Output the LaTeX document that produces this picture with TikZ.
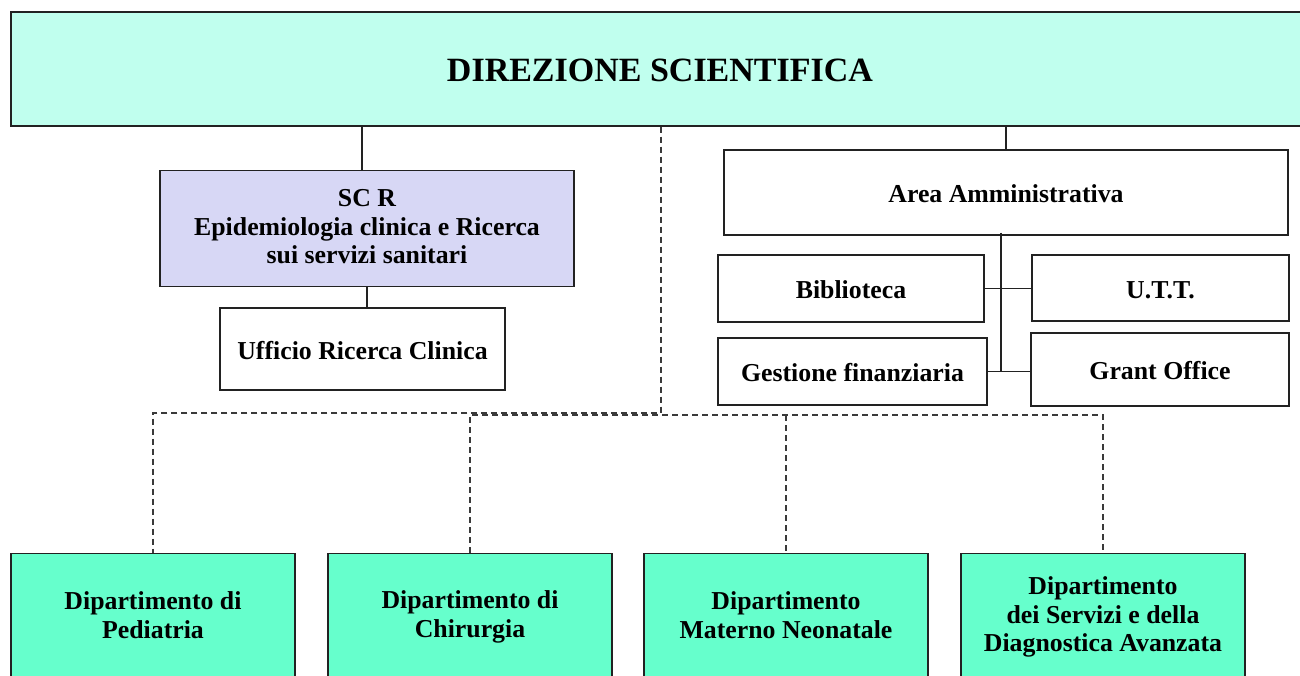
\documentclass[tikz,border=0pt]{standalone}
\usepackage{fontspec}
\setmainfont{Liberation Serif}
\definecolor{topfill}{HTML}{C0FFEE}
\definecolor{deptfill}{HTML}{66FFCC}
\definecolor{scrfill}{HTML}{D7D7F5}
\definecolor{edge}{HTML}{222222}
\definecolor{dashcol}{HTML}{3A3A3A}
\newcommand{\topstrut}{\rule{0pt}{24pt}}
\newcommand{\botstrut}{\rule[-4pt]{0pt}{4pt}}
\tikzset{
  box/.style={draw=edge, line width=1.3pt, rectangle, inner sep=0pt, align=center,
    font=\bfseries\fontsize{25.8}{28.5}\selectfont,
    execute at begin node=\topstrut, execute at end node=\botstrut},
  conn/.style={draw=edge, line width=1.3pt},
  dashline/.style={draw=dashcol, line width=1.3pt, dash pattern=on 6pt off 4pt},
}
\begin{document}
\begin{tikzpicture}[x=1pt, y=-1pt]
\clip (0,0) rectangle (1300,675);
% top box
\node[box, fill=topfill, minimum width=1300pt, minimum height=114pt] (top) at (661,69) {};
\node[font=\bfseries\fontsize{34}{38}\selectfont] (toptext) at (660,70) {DIREZIONE SCIENTIFICA};
% left branch
\node[box, fill=scrfill, minimum width=414pt, minimum height=116pt] (scr) at (367,228.5)
  {SC R\\Epidemiologia clinica e Ricerca\\sui servizi sanitari};
\node[box, fill=white, minimum width=285pt, minimum height=82pt] (uff) at (362.5,349)
  {Ufficio Ricerca Clinica};
% right branch
\node[box, fill=white, minimum width=564pt, minimum height=85pt] (area) at (1006,192.5)
  {Area Amministrativa};
\node[box, fill=white, minimum width=266pt, minimum height=67pt] (bib) at (851,288.5) {Biblioteca};
\node[box, fill=white, minimum width=257pt, minimum height=66pt] (utt) at (1160.5,288) {U.T.T.};
\node[box, fill=white, minimum width=269pt, minimum height=67pt] (gest) at (852.5,371.5) {Gestione finanziaria};
\node[box, fill=white, minimum width=258pt, minimum height=73pt] (grant) at (1160,369.5) {Grant Office};
% departments
\node[box, fill=deptfill, minimum width=284pt, minimum height=127pt] (d1) at (153,617) {Dipartimento di\\Pediatria};
\node[box, fill=deptfill, minimum width=284pt, minimum height=127pt] (d2) at (470,617) {Dipartimento di\\Chirurgia};
\node[box, fill=deptfill, minimum width=284pt, minimum height=127pt] (d3) at (786,617) {Dipartimento\\Materno Neonatale};
\node[box, fill=deptfill, minimum width=284pt, minimum height=127pt] (d4) at (1103,617) {Dipartimento\\dei Servizi e della\\Diagnostica Avanzata};
% coordinates
\coordinate (cl) at (362,0);
\coordinate (cr) at (1006,0);
\coordinate (v) at (1001,0);
\coordinate (j) at (661,413);
\coordinate (h) at (0,415);
% solid connectors
\draw[conn] (top.south -| cl) -- (scr.north -| cl);
\draw[conn] (scr.south) -- (scr.south |- uff.north);
\draw[conn] (top.south -| cr) -- (area.north -| cr);
\draw[conn] ([yshift=3pt]area.south -| v) -- (v |- gest.east);
\draw[conn] (bib.east) -- (bib.east -| utt.west);
\draw[conn] (gest.east) -- (gest.east -| grant.west);
% dashed connectors
\draw[dashline] (top.south -| j) -- (j) -- (j -| d1.north) -- (d1.north);
\draw[dashline] (d2.north) -- (d2.north |- h) -- (d4.north |- h) -- (d4.north);
\draw[dashline] (d3.north |- h) -- (d3.north);
\end{tikzpicture}
\end{document}
